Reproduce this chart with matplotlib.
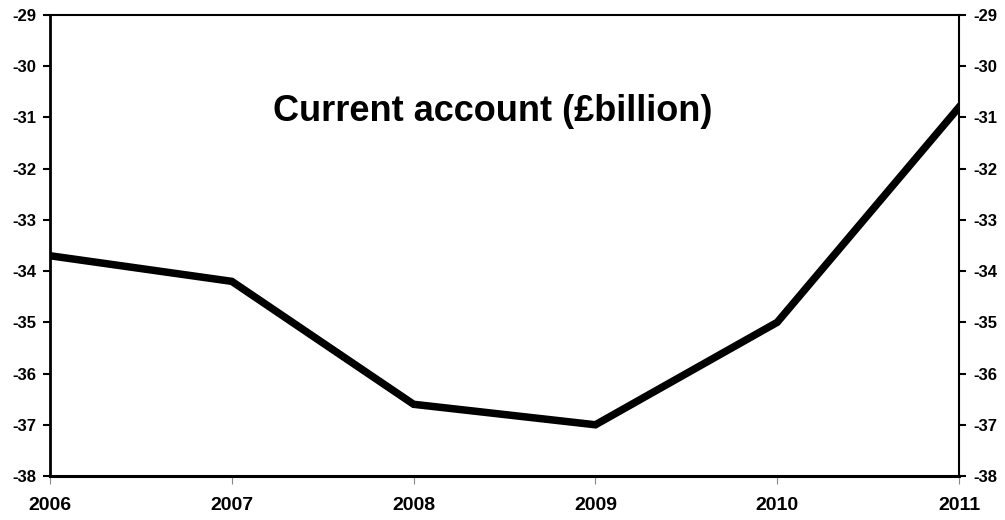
import matplotlib
matplotlib.use('Agg')
from matplotlib import pyplot as plt
import numpy as np

years = [2006, 2007, 2008, 2009, 2010, 2011]
current_account = [-33.7, -34.2, -36.6, -37.0, -35.0, -30.8]
y_ticks = np.arange(-38, -28, 1)

plt.rcParams['font.family'] = ['Liberation Sans', 'DejaVu Sans']

fig = plt.figure(figsize=(10.05, 5.2), dpi=100)
ax = fig.add_axes([50/1005, 44/520, 909/1005, 461/520])

ax.plot(years, current_account, color='black', lw=5.4, solid_joinstyle='miter')

ax.set_xlim(2006, 2011)
ax.set_ylim(-38, -29)
ax.set_xticks(years)
ax.set_yticks(y_ticks)
ax.set_xticklabels([str(y) for y in years], fontsize=14, fontweight='bold')
ax.set_yticklabels([str(v) for v in y_ticks], fontsize=12, fontweight='bold')

ax.tick_params(axis='y', which='both', left=True, right=True, labelleft=True,
               labelright=True, direction='out', length=5, width=1.5, pad=5)
ax.tick_params(axis='x', direction='out', length=6, width=0.8, color='#888888',
               pad=9)

ax.spines['left'].set_linewidth(2)
ax.spines['bottom'].set_linewidth(2.2)
ax.spines['top'].set_linewidth(1.5)
ax.spines['right'].set_linewidth(1.5)

ax.text(0.487, 0.79, 'Current account (£billion)', transform=ax.transAxes,
        ha='center', va='center', fontsize=26, fontweight='bold')

plt.savefig('out.png', dpi=100)
